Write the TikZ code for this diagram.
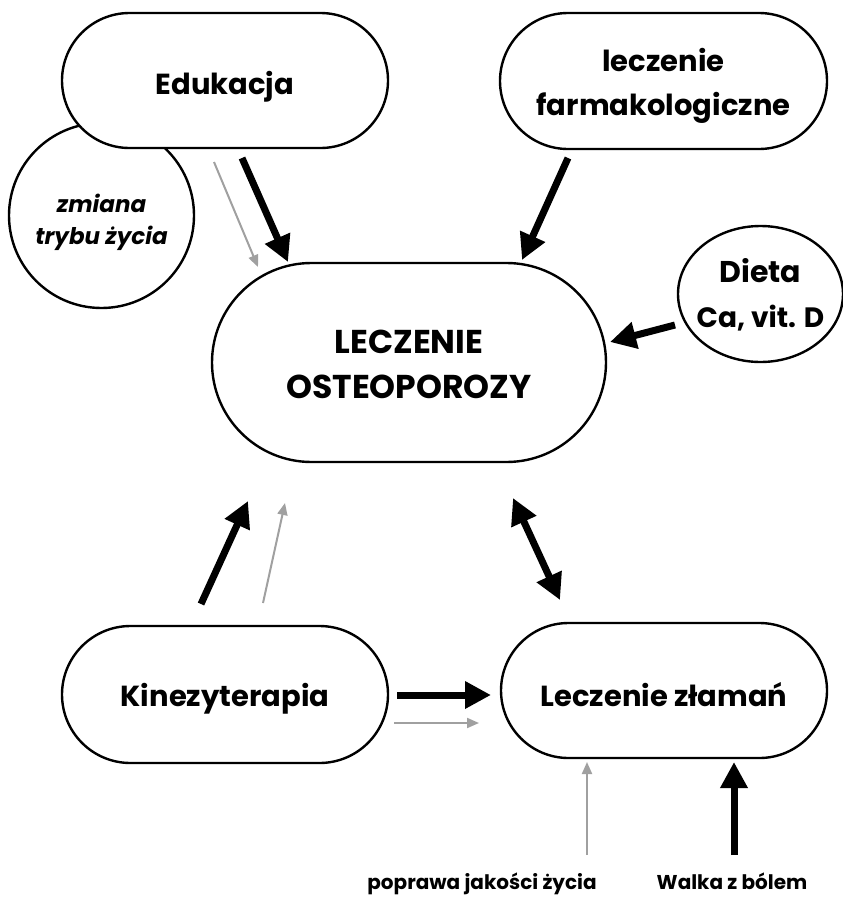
\documentclass[tikz,border=0pt]{standalone}
\usepackage{fontspec}
\setmainfont{Poppins}
\usetikzlibrary{arrows.meta,shapes.geometric}
\definecolor{lgray}{HTML}{A0A0A0}
\begin{document}
\begin{tikzpicture}[x=1pt,y=-1pt,
  stadium/.style={draw,line width=2.4pt,fill=white,inner sep=0pt},
  bubble/.style={draw,line width=2.4pt,fill=white,inner sep=0pt},
  txt/.style={inner sep=0pt,align=center,font=\fontsize{29}{44}\selectfont\bfseries},
  bigarrow/.style={line width=7pt,-{Triangle[length=26pt,width=26pt]}},
  bigdouble/.style={line width=7pt,{Triangle[length=26pt,width=26pt]}-{Triangle[length=26pt,width=26pt]}},
  thinarrow/.style={lgray,line width=2pt,-{Triangle[length=12pt,width=10pt]}},
  caption/.style={inner sep=0pt,anchor=base,font=\fontsize{20}{22}\selectfont\bfseries}
]
\useasboundingbox (0,0) rectangle (843,897);
% circle behind Edukacja
\node[bubble,circle,minimum size=185pt] (zmiana) at (101.5,215.5) {};
\node[txt,font=\fontsize{23}{32}\selectfont\bfseries\itshape] (zmianatxt) at (101.5,222) {zmiana\\trybu życia};
\node[stadium,minimum width=326pt,minimum height=135pt,rounded corners=67.5pt] (edu) at (225,80.5) {};
\node[txt] (edutxt) at (225,87) {Edukacja};
\node[stadium,minimum width=327pt,minimum height=136pt,rounded corners=68pt] (farm) at (663.5,81) {};
\node[txt] (farmtxt) at (663.5,86) {leczenie\\farmakologiczne};
\node[stadium,minimum width=394pt,minimum height=199pt,rounded corners=99.5pt] (main) at (409,362.5) {};
\node[txt,font=\fontsize{33}{45}\selectfont\bfseries] (maintxt) at (409,364.5) {LECZENIE\\OSTEOPOROZY};
\node[bubble,ellipse,minimum width=165pt,minimum height=136pt] (dieta) at (760.5,294) {};
\node[txt,font=\fontsize{30}{45}\selectfont\bfseries] (dietatxt) at (760.5,295) {Dieta\\\fontsize{28}{45}\selectfont Ca, vit. D};
\node[stadium,minimum width=326pt,minimum height=137pt,rounded corners=68.5pt] (kin) at (225,694.5) {};
\node[txt] (kintxt) at (225,698.5) {Kinezyterapia};
\node[stadium,minimum width=326pt,minimum height=135pt,rounded corners=67.5pt] (frac) at (664,690.5) {};
\node[txt] (fractxt) at (664,694.5) {Leczenie złamań};
\node[caption] (jakosc) at (482,889) {poprawa jakości życia};
\node[caption] (bol) at (732,889) {Walka z bólem};
% arrow end points
\coordinate (e1s) at (214,162); \coordinate (e1e) at (258,267);
\coordinate (e2s) at (242,158); \coordinate (e2e) at (288,262);
\coordinate (f1s) at (568,158); \coordinate (f1e) at (522,260);
\coordinate (d1s) at (675,325); \coordinate (d1e) at (610,342);
\coordinate (k1s) at (201,604); \coordinate (k1e) at (248,501);
\coordinate (k2s) at (263,603); \coordinate (k2e) at (285,503);
\coordinate (k3s) at (397,695); \coordinate (k3e) at (491,695);
\coordinate (k4s) at (394,723); \coordinate (k4e) at (479,723);
\coordinate (m1s) at (513,498); \coordinate (m1e) at (560,600);
\coordinate (j1s) at (587,855); \coordinate (j1e) at (587,762);
\coordinate (b1s) at (734,855); \coordinate (b1e) at (734,762);
\draw[thinarrow] (e1s) -- (e1e);
\draw[bigarrow] (e2s) -- (e2e);
\draw[bigarrow] (f1s) -- (f1e);
\draw[bigarrow] (d1s) -- (d1e);
\draw[bigarrow] (k1s) -- (k1e);
\draw[thinarrow] (k2s) -- (k2e);
\draw[bigarrow] (k3s) -- (k3e);
\draw[thinarrow] (k4s) -- (k4e);
\draw[bigdouble] (m1s) -- (m1e);
\draw[thinarrow] (j1s) -- (j1e);
\draw[bigarrow] (b1s) -- (b1e);
\end{tikzpicture}
\end{document}
